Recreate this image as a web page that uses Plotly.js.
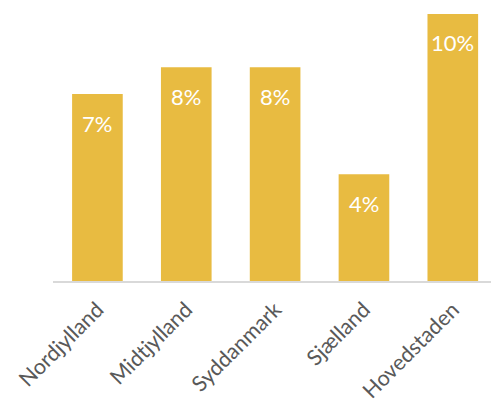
<!DOCTYPE html>
<html><head><meta charset="utf-8">
<script src="https://cdn.plot.ly/plotly-3.0.1.min.js"></script>
<style>html,body{margin:0;padding:0;background:#fff;}#chart{width:491px;height:403px;}</style>
</head><body><div id="chart"></div>
<script>
const categories = ["Nordjylland", "Midtjylland", "Syddanmark", "Sjælland", "Hovedstaden"];
const values = [7, 8, 8, 4, 10];
const labels = ["7%", "8%", "8%", "4%", "10%"];

const barColor = "#E8BB41";
const fontFamily = "Lato, 'Open Sans', sans-serif";

const trace = {
  type: "bar",
  x: categories,
  y: values,
  marker: {color: barColor},
  hoverinfo: "none"
};

const annotations = categories.map((c, i) => ({
  x: c, y: values[i], xref: "x", yref: "y",
  text: labels[i], showarrow: false,
  yanchor: "middle", yshift: -29,
  font: {family: fontFamily, size: 22, color: "#ffffff"}
}));

const layout = {
  width: 491, height: 403,
  margin: {l: 53, r: 0, t: 0, b: 122},
  paper_bgcolor: "#fff", plot_bgcolor: "#fff",
  bargap: 0.43,
  showlegend: false,
  xaxis: {
    type: "category",
    range: [-0.5, 4.43],
    tickangle: -45,
    showline: true, linecolor: "#d9d9d9", linewidth: 1.5,
    ticks: "", showgrid: false,
    ticklabelstandoff: 6,
    tickfont: {family: fontFamily, size: 21.5, color: "#595959"}
  },
  yaxis: {
    range: [0, 10.52],
    visible: false, showgrid: false, zeroline: false
  },
  annotations: annotations
};

Plotly.newPlot("chart", [trace], layout, {displayModeBar: false, staticPlot: true});
</script>
</body></html>
